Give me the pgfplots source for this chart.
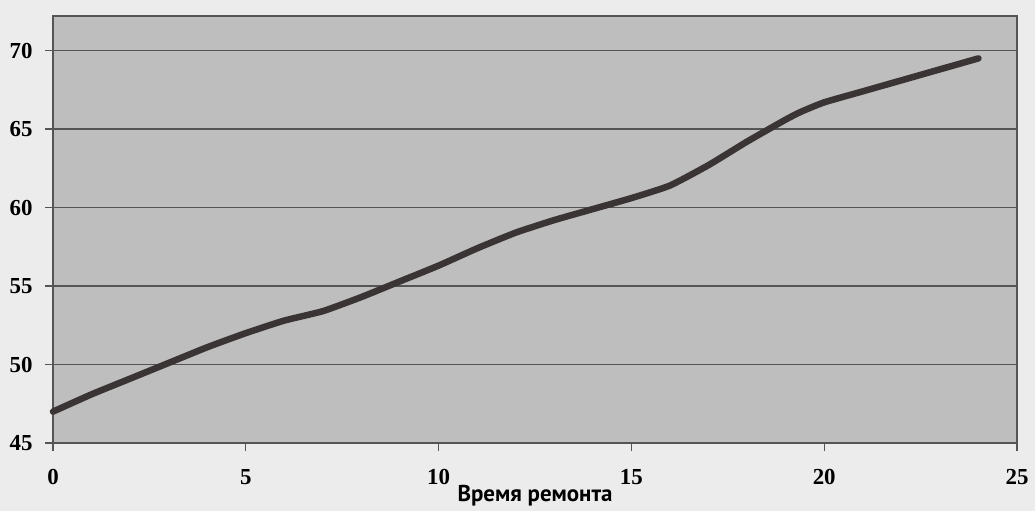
\documentclass[border=0pt]{standalone}
\usepackage{pgfplots}
\pgfplotsset{compat=1.18}
\usepackage{fontspec}
\setmainfont{Liberation Serif}
\newfontfamily\labelfont{PT Sans}
\definecolor{plotbg}{RGB}{190,190,190}
\definecolor{pagebg}{RGB}{236,236,236}
\definecolor{linec}{RGB}{58,52,52}
\definecolor{gridc}{RGB}{85,85,85}
\begin{document}
\begin{tikzpicture}
\fill[pagebg] (-53bp,-68bp) rectangle (982bp,443bp);
\begin{axis}[
  scale only axis,
  width=964bp, height=427bp,
  xmin=0, xmax=25, ymin=45, ymax=72.2,
  xtick={0,5,10,15,20,25},
  ytick={45,50,55,60,65,70},
  axis background/.style={fill=plotbg},
  axis line style={draw=gridc, line width=1.2bp},
  ymajorgrids,
  major grid style={draw=gridc, line width=1.4bp},
  tick align=outside,
  major tick length=8bp,
  tick style={draw=gridc, line width=1.2bp},
  xtick pos=bottom, ytick pos=left,
  /pgf/number format/assume math mode=true,
  ticklabel style={font=\fontsize{23}{23}\selectfont\bfseries},
  xticklabel style={yshift=-15bp},
  yticklabel style={xshift=-9bp},
  xlabel={Время ремонта},
  xlabel style={at={(axis description cs:0.5,0)}, anchor=north, yshift=-39bp, font=\labelfont\bfseries\fontsize{23}{23}\selectfont},
  clip=false,
]
\addplot[draw=linec, line width=6.5bp, line join=round, line cap=round, smooth, tension=0.3] coordinates {
(0,47.0) (1,48.1) (2,49.1) (3,50.1) (4,51.1) (5,52.0) (6,52.8) (7,53.4)
(8,54.3) (9,55.3) (10,56.3) (11,57.4) (12,58.4) (13,59.2) (14,59.9)
(15,60.6) (16,61.4) (17,62.7) (18,64.2) (19,65.6) (19.4,66.1) (20,66.7)
(21,67.4) (22,68.1) (23,68.8) (24,69.5)
};
\end{axis}
\pgfresetboundingbox
\path[use as bounding box] (-53bp,-68bp) rectangle (982bp,443bp);
\end{tikzpicture}
\end{document}
